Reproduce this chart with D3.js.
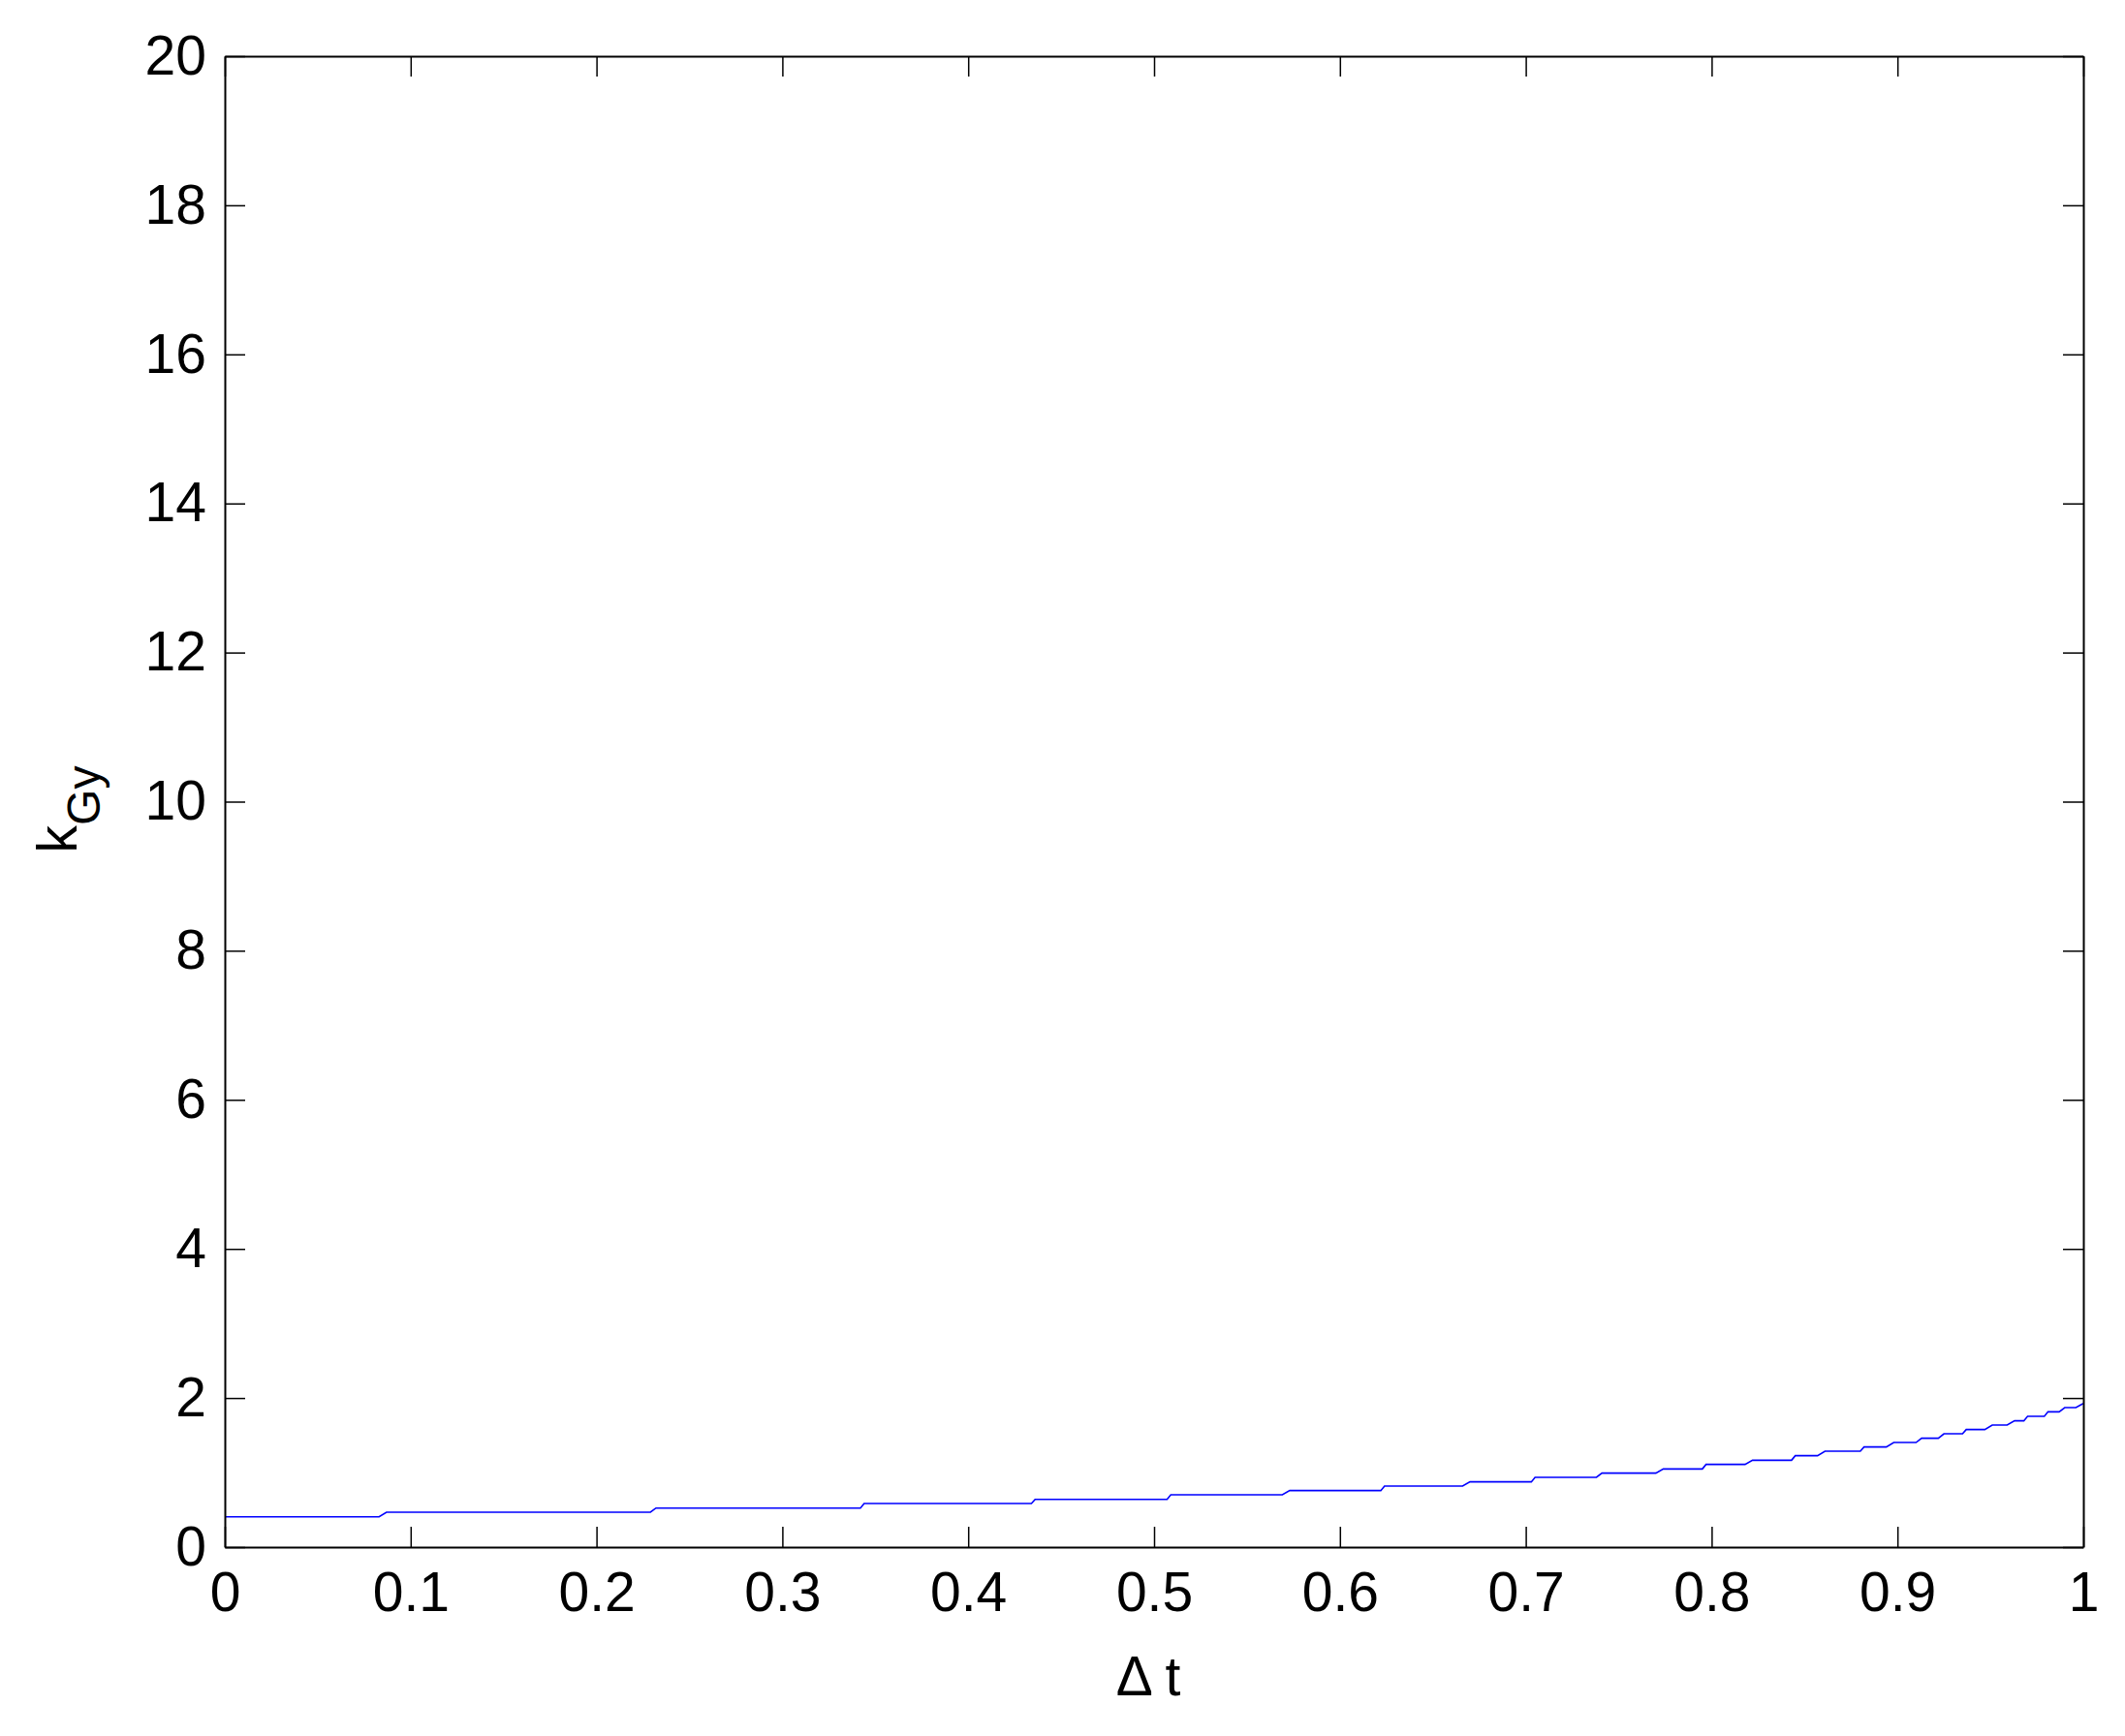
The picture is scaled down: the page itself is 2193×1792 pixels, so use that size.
<!DOCTYPE html>
<html>
<head>
<meta charset="utf-8">
<script src="https://d3js.org/d3.v7.min.js"></script>
<style>
  body { margin: 0; background: #fff; }
  text { font-family: "Liberation Sans", Arial, sans-serif; fill: #000; }
</style>
</head>
<body>
<div id="chart"></div>
<script>
// step curve vertices (delta t, k_Gy)
var tValues = [0, 0.083, 0.087, 0.229, 0.232, 0.342, 0.344, 0.434, 0.436, 0.507, 0.509,
    0.569, 0.573, 0.622, 0.624, 0.666, 0.670, 0.703, 0.705, 0.738, 0.741, 0.770, 0.774,
    0.795, 0.797, 0.818, 0.822, 0.843, 0.845, 0.857, 0.861, 0.880, 0.882, 0.894, 0.898,
    0.910, 0.913, 0.922, 0.925, 0.935, 0.937, 0.947, 0.951, 0.959, 0.963, 0.968, 0.970,
    0.979, 0.981, 0.987, 0.990, 0.996, 1.0];
var kValues = [0.407, 0.407, 0.468, 0.468, 0.524, 0.524, 0.585, 0.585, 0.641, 0.641, 0.702,
    0.702, 0.758, 0.758, 0.819, 0.819, 0.875, 0.875, 0.936, 0.936, 0.992, 0.992, 1.048,
    1.048, 1.109, 1.109, 1.165, 1.165, 1.226, 1.226, 1.287, 1.287, 1.343, 1.343, 1.403,
    1.403, 1.460, 1.460, 1.520, 1.520, 1.577, 1.577, 1.637, 1.637, 1.694, 1.694, 1.754,
    1.754, 1.815, 1.815, 1.871, 1.871, 1.927];

var xTicks = [0, 0.1, 0.2, 0.3, 0.4, 0.5, 0.6, 0.7, 0.8, 0.9, 1];
var xTickLabels = ["0", "0.1", "0.2", "0.3", "0.4", "0.5", "0.6", "0.7", "0.8", "0.9", "1"];
var yTicks = [0, 2, 4, 6, 8, 10, 12, 14, 16, 18, 20];

// set the dimensions and margins of the graph
var margin = {top: 58, right: 43, bottom: 195, left: 232},
    width = 2193 - margin.left - margin.right,
    height = 1792 - margin.top - margin.bottom;
var tickLen = 21;

var x = d3.scaleLinear().domain([0, 1]).range([0, width]);
var y = d3.scaleLinear().domain([0, 20]).range([height, 0]);

var data = tValues.map(function(t, i) { return {t: t, k: kValues[i]}; });

var svg = d3.select("#chart").append("svg")
    .attr("width", 2193)
    .attr("height", 1792)
  .append("g")
    .attr("transform", "translate(" + margin.left + "," + margin.top + ")");

// the curve
var valueline = d3.line()
    .x(function(d) { return x(d.t); })
    .y(function(d) { return y(d.k); });

svg.append("path")
    .datum(data)
    .attr("fill", "none")
    .attr("stroke", "#0000ff")
    .attr("stroke-width", 1.6)
    .attr("d", valueline);

// axes, ticks pointing inward on all four sides
// (with negative inner size d3 offsets the labels by the padding only)
var axisB = svg.append("g")
    .attr("transform", "translate(0," + height + ")")
    .call(d3.axisBottom(x).tickValues(xTicks)
        .tickFormat(function(d, i) { return xTickLabels[i]; })
        .tickSizeInner(-tickLen).tickSizeOuter(0).tickPadding(26));
var axisT = svg.append("g")
    .call(d3.axisTop(x).tickValues(xTicks).tickFormat("")
        .tickSizeInner(-tickLen).tickSizeOuter(0));
var axisL = svg.append("g")
    .call(d3.axisLeft(y).tickValues(yTicks)
        .tickSizeInner(-tickLen).tickSizeOuter(0).tickPadding(19));
var axisR = svg.append("g")
    .attr("transform", "translate(" + width + ",0)")
    .call(d3.axisRight(y).tickValues(yTicks).tickFormat("")
        .tickSizeInner(-tickLen).tickSizeOuter(0));

[axisB, axisT, axisL, axisR].forEach(function(g) {
    g.selectAll("path.domain").attr("stroke", "#000").attr("stroke-width", 2);
    g.selectAll(".tick line").attr("stroke", "#000").attr("stroke-width", 1.5);
    g.selectAll(".tick text")
        .style("font-family", "'Liberation Sans', Arial, sans-serif")
        .style("font-size", "57px")
        .attr("fill", "#000");
});
axisB.selectAll(".tick text").attr("dy", "0.71em");

// axis labels
svg.append("text")
    .attr("x", width / 2 - 6)
    .attr("y", height + 153)
    .attr("text-anchor", "middle")
    .style("font-size", "57px")
    .text("\u0394 t");

var ylab = svg.append("text")
    .attr("transform", "translate(" + (79 - margin.left) + "," + (height / 2 + 8) + ") rotate(-90)")
    .attr("text-anchor", "middle")
    .style("font-size", "57px");
ylab.append("tspan").text("k");
ylab.append("tspan").attr("dy", 24).style("font-size", "48px").text("Gy");
</script>
</body>
</html>
